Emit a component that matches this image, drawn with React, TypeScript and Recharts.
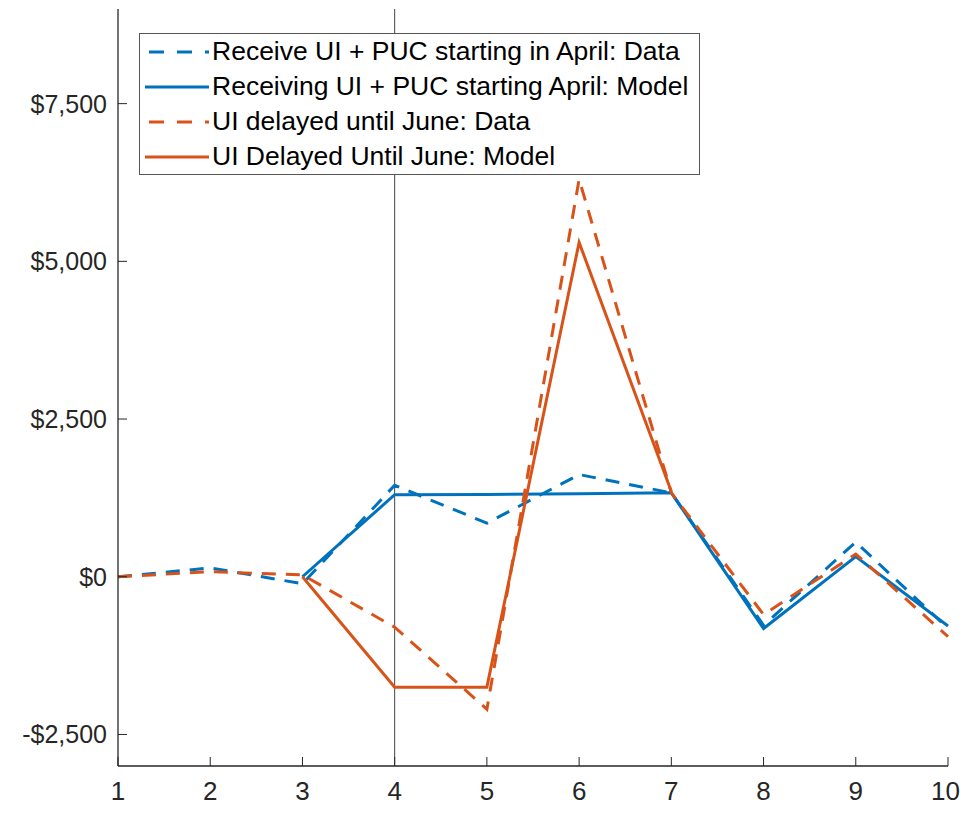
import React from "react";
import { LineChart, Line, XAxis, YAxis, ReferenceLine, Legend } from "recharts";

const months = [1, 2, 3, 4, 5, 6, 7, 8, 9, 10];
const aprilData = [0, 140, -110, 1450, 850, 1620, 1330, -770, 550, -820];
const aprilModel = [null, null, 0, 1300, 1305, 1315, 1330, -820, 320, -780];
const juneData = [0, 80, 30, -800, -2100, 6300, 1330, -600, 360, -950];
const juneModel = [null, null, 0, -1750, -1750, 5300, 1350, null, null, null];
const xTicks = [1, 2, 3, 4, 5, 6, 7, 8, 9, 10];
const yTicks = [-2500, 0, 2500, 5000, 7500];
const seriesNames = [
  "Receive UI + PUC starting in April: Data",
  "Receiving UI + PUC starting April: Model",
  "UI delayed until June: Data",
  "UI Delayed Until June: Model",
];

const data = months.map((m, i) => ({
  month: m,
  aprilData: aprilData[i],
  aprilModel: aprilModel[i],
  juneData: juneData[i],
  juneModel: juneModel[i],
}));

const CHART_W = 953;
const CHART_H = 798;
const BLUE = "#0072BD";
const ORANGE = "#D95319";
const AXIS = "#262626";
const FONT = "'Liberation Sans', Arial, Helvetica, sans-serif";
const DASH = "14 10";
const X_FONT = 26;

const fmt = (v: number) => {
  const s = Math.abs(v).toString().replace(/\B(?=(\d{3})+(?!\d))/g, ",");
  return (v < 0 ? "-$" : "$") + s;
};

const YTick = (props: any) => {
  const { x, y, payload } = props;
  return (
    <g>
      <line x1={x} y1={y} x2={x + 9} y2={y} stroke={AXIS} strokeWidth={1} />
      <text
        x={x - 11}
        y={y}
        textAnchor="end"
        dominantBaseline="central"
        fontSize={25}
        fontFamily={FONT}
        fill={AXIS}
      >
        {fmt(payload.value)}
      </text>
    </g>
  );
};

const XTick = (props: any) => {
  const { x, y, payload } = props;
  const label = String(payload.value);
  const halfW = (label.length * 0.556 * X_FONT) / 2;
  const overflow = x + halfW > CHART_W - 1;
  return (
    <g>
      <line x1={x} y1={y} x2={x} y2={y - 9} stroke={AXIS} strokeWidth={1} />
      <text
        x={overflow ? CHART_W - 1 : x}
        y={y + 25}
        textAnchor={overflow ? "end" : "middle"}
        dominantBaseline="central"
        fontSize={X_FONT}
        fontFamily={FONT}
        fill={AXIS}
      >
        {label}
      </text>
    </g>
  );
};

const legendItems = [
  { name: seriesNames[0], color: BLUE, dash: true },
  { name: seriesNames[1], color: BLUE, dash: false },
  { name: seriesNames[2], color: ORANGE, dash: true },
  { name: seriesNames[3], color: ORANGE, dash: false },
];

const LegendBox = () => (
  <div
    style={{
      width: 559,
      height: 140,
      border: "1px solid #555",
      background: "#fff",
      boxSizing: "content-box",
      fontFamily: FONT,
      fontSize: 26.5,
      color: "#000",
    }}
  >
    {legendItems.map((it, i) => (
      <div key={i} style={{ display: "flex", alignItems: "center", height: 35 }}>
        <svg width={67} height={10} style={{ marginLeft: 5, flexShrink: 0 }}>
          <line
            x1={0}
            y1={5}
            x2={64}
            y2={5}
            stroke={it.color}
            strokeWidth={3}
            strokeDasharray={it.dash ? "15 13" : undefined}
            strokeDashoffset={it.dash ? -4 : undefined}
          />
        </svg>
        <span style={{ whiteSpace: "nowrap" }}>{it.name}</span>
      </div>
    ))}
  </div>
);

export default function App() {
  return (
    <LineChart
      width={CHART_W}
      height={CHART_H}
      data={data}
      margin={{ top: 1, right: 13, left: 0, bottom: 0 }}
    >
      <XAxis
        dataKey="month"
        type="number"
        domain={[1, 10]}
        ticks={xTicks}
        interval={0}
        tickSize={0}
        tickMargin={0}
        tickLine={false}
        height={40}
        axisLine={{ stroke: AXIS, strokeWidth: 1.3 }}
        tick={<XTick />}
      />
      <YAxis
        type="number"
        domain={[-3000, 9000]}
        ticks={yTicks}
        interval={0}
        tickSize={0}
        tickMargin={0}
        tickLine={false}
        width={110}
        axisLine={{ stroke: AXIS, strokeWidth: 1.3 }}
        tick={<YTick />}
        allowDataOverflow
      />
      <ReferenceLine x={4} stroke="#444" strokeWidth={1} />
      <Line
        dataKey="aprilData"
        name={seriesNames[0]}
        stroke={BLUE}
        strokeWidth={3}
        strokeDasharray={DASH}
        dot={false}
        activeDot={false}
        isAnimationActive={false}
      />
      <Line
        dataKey="aprilModel"
        name={seriesNames[1]}
        stroke={BLUE}
        strokeWidth={3}
        dot={false}
        activeDot={false}
        isAnimationActive={false}
      />
      <Line
        dataKey="juneData"
        name={seriesNames[2]}
        stroke={ORANGE}
        strokeWidth={3}
        strokeDasharray={DASH}
        dot={false}
        activeDot={false}
        isAnimationActive={false}
      />
      <Line
        dataKey="juneModel"
        name={seriesNames[3]}
        stroke={ORANGE}
        strokeWidth={3}
        dot={false}
        activeDot={false}
        isAnimationActive={false}
      />
      <Legend
        layout="horizontal"
        verticalAlign="middle"
        align="center"
        content={<LegendBox />}
        wrapperStyle={{ left: 131, top: 25, width: 561, height: 142 }}
      />
    </LineChart>
  );
}
